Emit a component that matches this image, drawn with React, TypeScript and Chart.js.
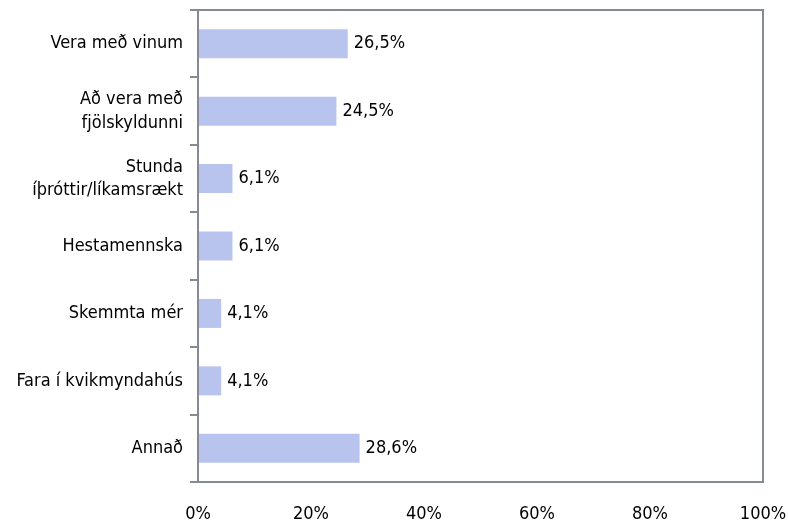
import React, { useEffect, useRef } from "react";
import { Chart, registerables } from "chart.js";

Chart.register(...registerables);

const categories: (string | string[])[] = [
  "Vera með vinum",
  ["Að vera með", "fjölskyldunni"],
  ["Stunda", "íþróttir/líkamsrækt"],
  "Hestamennska",
  "Skemmta mér",
  "Fara í kvikmyndahús",
  "Annað",
];
const values = [26.5, 24.5, 6.1, 6.1, 4.1, 4.1, 28.6];
const xTicks = [0, 20, 40, 60, 80, 100];

const FONT = "'DejaVu Sans Condensed', 'Liberation Sans Narrow', sans-serif";

const frame = {
  id: "frame",
  afterDatasetsDraw(chart: any) {
    const { ctx, chartArea: a } = chart;
    ctx.save();
    ctx.strokeStyle = "#868a94";
    ctx.lineWidth = 2;
    ctx.strokeRect(a.left, a.top, a.right - a.left, a.bottom - a.top);
    const meta = chart.getDatasetMeta(0);
    ctx.fillStyle = "#000";
    ctx.font = "18px " + FONT;
    ctx.textBaseline = "middle";
    ctx.textAlign = "left";
    meta.data.forEach((bar: any, i: number) => {
      const txt = values[i].toFixed(1).replace(".", ",") + "%";
      ctx.fillText(txt, bar.x + 6, bar.y);
    });
    ctx.restore();
  },
};

export default function App() {
  const ref = useRef<HTMLCanvasElement>(null);
  useEffect(() => {
    document.body.style.margin = "0";
    const chart = new Chart(ref.current!, {
      type: "bar",
      data: {
        labels: categories,
        datasets: [
          {
            data: values,
            backgroundColor: "#b9c4ee",
            borderWidth: 0,
            categoryPercentage: 1,
            barPercentage: 0.43,
          },
        ],
      },
      options: {
        indexAxis: "y",
        animation: false,
        responsive: false,
        layout: { padding: { top: 10, right: 25, left: 0, bottom: 0 } },
        plugins: { legend: { display: false }, tooltip: { enabled: false } },
        scales: {
          x: {
            min: 0,
            max: 100,
            afterBuildTicks: (s: any) => {
              s.ticks = xTicks.map((v) => ({ value: v }));
            },
            grid: { display: false, drawTicks: false },
            border: { display: false },
            ticks: {
              padding: 22,
              color: "#000",
              font: { family: FONT, size: 18 },
              callback: (v: any) => v + "%",
              maxRotation: 0,
            },
            afterFit: (s: any) => {
              s.height = 41;
              s.paddingLeft = 0;
              s.paddingRight = 0;
            },
          },
          y: {
            grid: {
              drawOnChartArea: false,
              tickLength: 8,
              color: "#868a94",
              lineWidth: 2,
              offset: true,
            },
            border: { display: false },
            ticks: {
              padding: 7,
              color: "#000",
              font: { family: FONT, size: 18, lineHeight: 1.3 },
            },
            afterFit: (s: any) => {
              s.width = 198;
              s.paddingTop = 0;
              s.paddingBottom = 0;
            },
          },
        },
      },
      plugins: [frame],
    });
    return () => chart.destroy();
  }, []);
  return (
    <div style={{ width: 788, height: 523 }}>
      <canvas ref={ref} width={788} height={523} />
    </div>
  );
}
